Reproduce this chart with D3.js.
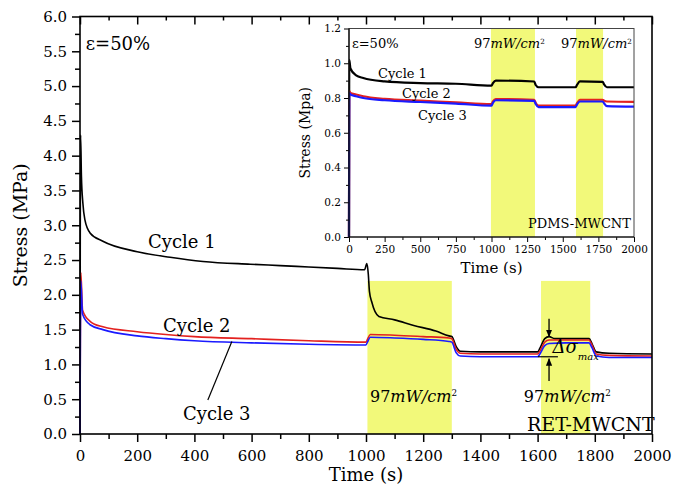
<!DOCTYPE html>
<html>
<head>
<meta charset="utf-8">
<script src="https://cdn.jsdelivr.net/npm/d3@7"></script>
<style>
  body { margin: 0; background: #fff; }
  text { font-family: "DejaVu Serif", serif; }
</style>
</head>
<body>
<svg id="chart" width="683" height="490"></svg>
<script>
// ---- main plot data (RET-MWCNT) ----
var c1Time = [0, 2, 5, 10, 17, 35, 80, 200, 315, 430, 595, 700, 800, 900, 995, 1003, 1008, 1012, 1020, 1045, 1100, 1167, 1244, 1290, 1300, 1315, 1330, 1400, 1500, 1600, 1610, 1625, 1640, 1660, 1700, 1780, 1790, 1805, 1850, 2000];
var c1Val  = [0, 4.30, 3.70, 3.32, 3.08, 2.89, 2.77, 2.62, 2.54, 2.48, 2.44, 2.42, 2.40, 2.38, 2.36, 2.45, 2.30, 2.05, 1.90, 1.69, 1.64, 1.56, 1.48, 1.41, 1.40, 1.26, 1.19, 1.18, 1.18, 1.18, 1.25, 1.37, 1.40, 1.37, 1.37, 1.37, 1.30, 1.18, 1.16, 1.15];
var c23Time = [0, 3, 9, 35, 80, 200, 300, 400, 600, 800, 1000, 1005, 1015, 1100, 1200, 1290, 1300, 1315, 1330, 1400, 1600, 1605, 1625, 1640, 1700, 1780, 1790, 1805, 1850, 2000];
var c2Val  = [0, 2.32, 1.78, 1.62, 1.54, 1.47, 1.43, 1.40, 1.37, 1.34, 1.32, 1.36, 1.43, 1.42, 1.40, 1.38, 1.37, 1.22, 1.16, 1.15, 1.15, 1.17, 1.32, 1.35, 1.35, 1.35, 1.28, 1.15, 1.13, 1.12];
var c3Val  = [0, 2.20, 1.72, 1.57, 1.50, 1.41, 1.37, 1.34, 1.31, 1.29, 1.28, 1.32, 1.39, 1.38, 1.36, 1.33, 1.32, 1.17, 1.12, 1.11, 1.11, 1.13, 1.27, 1.30, 1.31, 1.31, 1.24, 1.12, 1.10, 1.10];
var mainBands = [[1005, 1300], [1612, 1784]];

// ---- inset data (PDMS-MWCNT) ----
var inTime = [0, 2, 10, 50, 100, 250, 500, 750, 1000, 1010, 1030, 1300, 1310, 1330, 1590, 1600, 1620, 1780, 1790, 1810, 2000];
var in1Val = [0, 1.02, 0.97, 0.93, 0.915, 0.896, 0.886, 0.882, 0.871, 0.885, 0.90, 0.895, 0.875, 0.862, 0.862, 0.875, 0.896, 0.893, 0.878, 0.862, 0.862];
var in2Val = [0, 0.84, 0.829, 0.82, 0.81, 0.795, 0.785, 0.775, 0.765, 0.78, 0.794, 0.79, 0.772, 0.756, 0.756, 0.77, 0.79, 0.79, 0.785, 0.78, 0.778];
var in3Val = [0, 0.83, 0.82, 0.81, 0.80, 0.787, 0.777, 0.768, 0.756, 0.772, 0.787, 0.783, 0.765, 0.748, 0.748, 0.762, 0.78, 0.78, 0.77, 0.753, 0.75];
var inBands = [[996, 1305], [1593, 1783]];

// ticks
var mainYMajor = d3.range(0, 6.01, 0.5);
var mainYMinor = d3.range(0.25, 6, 0.5);
var mainXMajor = d3.range(0, 2001, 200);
var mainXMinor = d3.range(100, 2000, 200);
var inYMajor = d3.range(0, 1.21, 0.2);
var inYMinor = d3.range(0.1, 1.2, 0.2);
var inXMajor = d3.range(0, 2001, 250);
var inXMinor = d3.range(125, 2000, 250);

var bandColor = '#f2f97a';
var svg = d3.select('#chart');

var x = d3.scaleLinear().domain([0, 2000]).range([80, 652]);
var y = d3.scaleLinear().domain([0, 6]).range([434, 16.5]);

var xi = d3.scaleLinear().domain([0, 2000]).range([349, 634]);
var yi = d3.scaleLinear().domain([0, 1.2]).range([237, 28.5]);

var zipped = function(ts, vs) {
  return ts.map(function(t, i) { return [t, vs[i]]; });
};

var styleAxis = function(g, size, width) {
  g.select('.domain').remove();
  g.selectAll('line').attr('stroke', '#000').attr('stroke-width', width);
  g.selectAll('text').attr('font-family', '"DejaVu Serif", serif').attr('font-size', size).attr('fill', '#000');
};

// ===== main plot =====
svg.append('g').selectAll('rect').data(mainBands).enter().append('rect')
  .attr('x', function(d) { return x(d[0]); })
  .attr('width', function(d) { return x(d[1]) - x(d[0]); })
  .attr('y', y(2.2))
  .attr('height', y(0) - y(2.2))
  .attr('fill', bandColor);

var line = d3.line().x(function(d) { return x(d[0]); }).y(function(d) { return y(d[1]); }).curve(d3.curveMonotoneX);
[[c1Time, c1Val, '#000'], [c23Time, c2Val, '#e3211f'], [c23Time, c3Val, '#1a1aff']].forEach(function(s) {
  svg.append('path').datum(zipped(s[0], s[1]))
    .attr('d', line).attr('fill', 'none').attr('stroke', s[2]).attr('stroke-width', 1.6);
});

// axes
svg.append('g').attr('transform', 'translate(80,0)')
  .call(d3.axisLeft(y).tickValues(mainYMajor).tickSize(8).tickPadding(5).tickFormat(d3.format('.1f')))
  .call(styleAxis, 15, 1.5);
svg.append('g').attr('transform', 'translate(80,0)')
  .call(d3.axisLeft(y).tickValues(mainYMinor).tickSize(5).tickFormat(''))
  .call(styleAxis, 15, 1.5);
svg.append('g').attr('transform', 'translate(0,434)')
  .call(d3.axisBottom(x).tickValues(mainXMajor).tickSize(8).tickPadding(8).tickFormat(d3.format('d')))
  .call(styleAxis, 15, 1.5);
svg.append('g').attr('transform', 'translate(0,434)')
  .call(d3.axisBottom(x).tickValues(mainXMinor).tickSize(5).tickFormat(''))
  .call(styleAxis, 15, 1.5);
svg.append('g').attr('transform', 'translate(0,16.5)')
  .call(d3.axisBottom(x).tickValues(mainXMajor).tickSize(8).tickFormat(''))
  .call(styleAxis, 15, 1.5);
svg.append('g').attr('transform', 'translate(0,16.5)')
  .call(d3.axisBottom(x).tickValues(mainXMinor).tickSize(4).tickFormat(''))
  .call(styleAxis, 15, 1.5);
svg.append('rect')
  .attr('x', x(0)).attr('y', y(6))
  .attr('width', x(2000) - x(0)).attr('height', y(0) - y(6))
  .attr('fill', 'none').attr('stroke', '#000').attr('stroke-width', 1.6);

svg.append('text').attr('transform', 'translate(27,' + y(3.0) + ') rotate(-90)')
  .attr('text-anchor', 'middle').attr('font-size', 19).text('Stress (MPa)');
svg.append('text').attr('x', x(1000)).attr('y', 481)
  .attr('text-anchor', 'middle').attr('font-size', 18).text('Time (s)');

// main annotations
var label = function(px, py, size, str) {
  return svg.append('text').attr('x', px).attr('y', py).attr('font-size', size).text(str);
};
label(x(20), y(5.52), 18, 'ε=50%');
label(x(238), y(2.68), 18, 'Cycle 1');
label(x(290), y(1.47), 18, 'Cycle 2');
label(x(360), y(0.2), 18, 'Cycle 3');
label(x(1563), y(0.05), 19, 'RET-MWCNT');
svg.append('line')
  .attr('x1', x(447)).attr('y1', y(0.49)).attr('x2', x(531)).attr('y2', y(1.33))
  .attr('stroke', '#000').attr('stroke-width', 1.2);

var power = function(px, py, size) {
  var t = svg.append('text').attr('x', px).attr('y', py).attr('font-size', size);
  t.append('tspan').text('97');
  t.append('tspan').attr('font-style', 'italic').text('mW/cm');
  t.append('tspan').attr('font-size', size * 0.55).attr('dy', -size * 0.35).text('2');
};
power(x(1014), y(0.46), 16);
power(x(1552), y(0.46), 16);

// delta sigma marker
var defs = svg.append('defs');
defs.append('marker').attr('id', 'head').attr('viewBox', '0 0 10 10')
  .attr('refX', 9).attr('refY', 5).attr('markerWidth', 6).attr('markerHeight', 6)
  .attr('orient', 'auto')
  .append('path').attr('d', 'M0,1 L10,5 L0,9 Z').attr('fill', '#000');
svg.append('line').attr('x1', x(1640)).attr('x2', x(1640)).attr('y1', y(1.655)).attr('y2', y(1.40))
  .attr('stroke', '#000').attr('stroke-width', 1.3).attr('marker-end', 'url(#head)');
svg.append('line').attr('x1', x(1640)).attr('x2', x(1640)).attr('y1', y(0.76)).attr('y2', y(1.08))
  .attr('stroke', '#000').attr('stroke-width', 1.3).attr('marker-end', 'url(#head)');
svg.append('line').attr('x1', x(1601)).attr('x2', x(1671)).attr('y1', y(1.11)).attr('y2', y(1.11))
  .attr('stroke', '#000').attr('stroke-width', 1.2);
var ds = svg.append('text').attr('x', x(1652)).attr('y', y(1.165)).attr('font-size', 18).attr('font-style', 'italic');
ds.append('tspan').text('Δσ');
ds.append('tspan').attr('font-size', 10).attr('dy', 7).text('max');

// ===== inset =====
var inset = svg.append('g');
inset.append('rect')
  .attr('x', xi(0)).attr('y', yi(1.2))
  .attr('width', xi(2000) - xi(0)).attr('height', yi(0) - yi(1.2))
  .attr('fill', '#fff');
inset.append('g').selectAll('rect').data(inBands).enter().append('rect')
  .attr('x', function(d) { return xi(d[0]); })
  .attr('width', function(d) { return xi(d[1]) - xi(d[0]); })
  .attr('y', yi(1.2))
  .attr('height', yi(0) - yi(1.2))
  .attr('fill', bandColor);

var lineIn = d3.line().x(function(d) { return xi(d[0]); }).y(function(d) { return yi(d[1]); }).curve(d3.curveMonotoneX);
[[in1Val, '#000'], [in2Val, '#e3211f'], [in3Val, '#1a1aff']].forEach(function(s) {
  inset.append('path').datum(zipped(inTime, s[0]))
    .attr('d', lineIn).attr('fill', 'none').attr('stroke', s[1]).attr('stroke-width', 2.2);
});

inset.append('g').attr('transform', 'translate(349,0)')
  .call(d3.axisLeft(yi).tickValues(inYMajor).tickSize(5).tickPadding(3).tickFormat(d3.format('.1f')))
  .call(styleAxis, 10.5, 1);
inset.append('g').attr('transform', 'translate(349,0)')
  .call(d3.axisLeft(yi).tickValues(inYMinor).tickSize(3).tickFormat(''))
  .call(styleAxis, 10.5, 1);
inset.append('g').attr('transform', 'translate(0,237)')
  .call(d3.axisBottom(xi).tickValues(inXMajor).tickSize(5).tickPadding(4).tickFormat(d3.format('d')))
  .call(styleAxis, 10.5, 1);
inset.append('g').attr('transform', 'translate(0,237)')
  .call(d3.axisBottom(xi).tickValues(inXMinor).tickSize(3).tickFormat(''))
  .call(styleAxis, 10.5, 1);
inset.append('rect')
  .attr('x', xi(0)).attr('y', yi(1.2))
  .attr('width', xi(2000) - xi(0)).attr('height', yi(0) - yi(1.2))
  .attr('fill', 'none').attr('stroke', '#444').attr('stroke-width', 1);
inset.append('line').attr('x1', xi(0)).attr('x2', xi(0)).attr('y1', yi(0)).attr('y2', yi(1.2))
  .attr('stroke', '#000').attr('stroke-width', 1.2);
inset.append('line').attr('x1', xi(0)).attr('x2', xi(2000)).attr('y1', yi(0)).attr('y2', yi(0))
  .attr('stroke', '#000').attr('stroke-width', 1.2);

inset.append('text').attr('transform', 'translate(310,' + yi(0.6) + ') rotate(-90)')
  .attr('text-anchor', 'middle').attr('font-size', 14).text('Stress (Mpa)');
inset.append('text').attr('x', xi(1000)).attr('y', 273)
  .attr('text-anchor', 'middle').attr('font-size', 15).text('Time (s)');

label(xi(21), yi(1.086), 13, 'ε=50%');
label(xi(204), yi(0.914), 13, 'Cycle 1');
label(xi(372), yi(0.80), 13, 'Cycle 2');
label(xi(484), yi(0.672), 13, 'Cycle 3');
label(xi(1256), yi(0.05), 13, 'PDMS-MWCNT');
power(xi(877), yi(1.086), 13);
power(xi(1488), yi(1.086), 13);
</script>
</body>
</html>
